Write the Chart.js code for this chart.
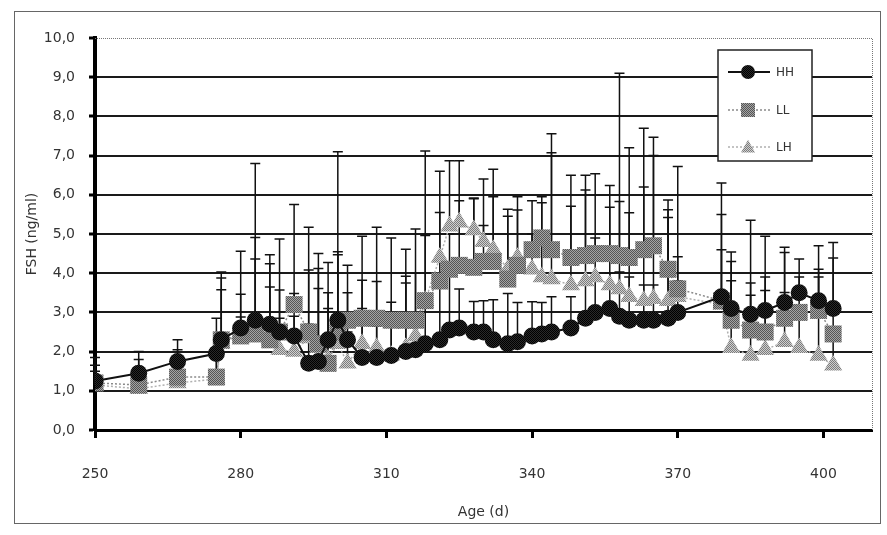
<!DOCTYPE html>
<html>
<head>
<meta charset="utf-8">
<script src="https://cdn.jsdelivr.net/npm/chart.js@4.4.1/dist/chart.umd.min.js"></script>
<style>
  html, body { margin: 0; background: #fff; }
  #wrap { width: 887px; height: 535px; position: relative; }
</style>
</head>
<body>
<div id="wrap"><canvas id="fshChart"></canvas></div>
<script>
  // age in days
  const days = [250, 259, 267, 275,
    276, 280, 283, 286, 288, 291, 294, 296, 298, 300,
    302, 305, 308, 311, 314, 316, 318, 321, 323, 325,
    328, 330, 332, 335, 337, 340, 342, 344, 348, 351,
    353, 356, 358, 360, 363, 365, 368, 370,
    379, 381, 385, 388, 392, 395, 399, 402];

  // FSH means (ng/ml)
  const hhFSH = [1.25, 1.45, 1.75, 1.95,
    2.3, 2.6, 2.8, 2.7, 2.5, 2.4, 1.7, 1.75, 2.3, 2.8,
    2.3, 1.85, 1.85, 1.9, 2.0, 2.05, 2.2, 2.3, 2.55, 2.6,
    2.5, 2.5, 2.3, 2.2, 2.25, 2.4, 2.45, 2.5, 2.6, 2.85,
    3.0, 3.1, 2.9, 2.8, 2.8, 2.8, 2.85, 3.0,
    3.4, 3.1, 2.95, 3.05, 3.25, 3.5, 3.3, 3.1];
  const llFSH = [1.2, 1.15, 1.35, 1.35,
    2.3, 2.4, 2.45, 2.3, 2.5, 3.2, 2.5, 2.2, 1.7, 2.5,
    2.8, 2.85, 2.85, 2.8, 2.8, 2.8, 3.3, 3.8, 4.1, 4.2,
    4.15, 4.3, 4.3, 3.85, 4.2, 4.6, 4.9, 4.6, 4.4, 4.45,
    4.5, 4.5, 4.45, 4.4, 4.6, 4.7, 4.1, 3.6,
    3.3, 2.8, 2.55, 2.5, 2.85, 3.0, 3.05, 2.45];
  const lhFSH = [1.15, 1.05, 1.2, 1.3,
    2.2, 2.45, 2.55, 2.3, 2.05, 2.0, 2.35, 2.1, 1.8, 2.2,
    1.7, 2.2, 2.1, 1.9, 2.1, 2.4, 3.3, 4.4, 5.2, 5.3,
    5.1, 4.8, 4.6, 4.1, 4.4, 4.1, 3.9, 3.85, 3.7, 3.8,
    3.9, 3.7, 3.6, 3.4, 3.3, 3.35, 3.3, 3.4,
    3.2, 2.1, 1.9, 2.05, 2.25, 2.1, 1.9, 1.65];

  // upper error (SD)
  const hhErr = [0.6, 0.55, 0.55, 0.9,
    1.28, 1.96, 4.0, 1.77, 2.37, 1.08, 1.0, 2.75, 1.97, 4.3,
    1.9, 1.97, 0.8, 1.36, 1.75, 0.8, 1.0, 1.63, 1.42, 1.0,
    0.78, 0.8, 1.02, 1.28, 1.0, 0.87, 0.8, 0.9, 0.8, 0.9,
    0.9, 0.9, 1.13, 1.1, 0.9, 0.9, 2.57, 0.8,
    1.2, 1.44, 0.8, 1.89, 1.41, 0.86, 0.8, 1.68];
  const llErr = [0.45, 0.65, 0.7, 0.6,
    1.73, 1.06, 2.46, 1.94, 1.07, 2.55, 2.67, 1.92, 1.4, 2.05,
    0.7, 2.09, 2.32, 2.1, 1.81, 2.33, 1.66, 1.75, 0.9, 1.65,
    1.77, 0.92, 2.35, 1.6, 1.75, 1.25, 0.9, 2.96, 2.1, 2.05,
    2.04, 1.74, 4.65, 2.8, 3.1, 2.77, 1.77, 3.12,
    3.0, 1.5, 2.8, 1.4, 1.68, 0.9, 1.65, 1.94];
  const lhErr = [0.35, 0.55, 0.5, 0.5,
    1.68, 0.43, 1.81, 1.35, 0.8, 0.9, 1.73, 1.51, 1.7, 2.27,
    0.8, 0.9, 1.69, 0.9, 1.82, 1.6, 3.82, 2.2, 1.67, 1.57,
    0.8, 1.6, 1.35, 1.53, 1.21, 0.9, 2.05, 3.22, 2.01, 2.32,
    1.0, 1.98, 2.23, 2.14, 2.9, 3.65, 2.32, 1.02,
    2.3, 1.71, 1.54, 1.51, 1.26, 0.8, 2.0, 0.9];

  const xTicks = [250, 280, 310, 340, 370, 400];

  const FONT = 'DejaVu Sans';
  const TXT = '#333';

  const canvas = document.getElementById('fshChart');
  const cctx = canvas.getContext('2d');

  // scanned halftone look for the grey markers
  function halftone(a, b) {
    const c = document.createElement('canvas');
    c.width = 2; c.height = 2;
    const g = c.getContext('2d');
    g.fillStyle = b; g.fillRect(0, 0, 2, 2);
    g.fillStyle = a; g.fillRect(0, 0, 1, 1); g.fillRect(1, 1, 1, 1);
    return cctx.createPattern(c, 'repeat');
  }
  const hhFill = halftone('#000', '#2a2a2a');
  const llFill = halftone('#555', '#a4a4a4');
  const lhFill = halftone('#7c7c7c', '#cfcfcf');

  const pts = arr => arr.map((v, i) => ({ x: days[i], y: v }));

  const frame = {
    id: 'frame',
    beforeDraw(chart) {
      const { ctx } = chart;
      ctx.save();
      ctx.fillStyle = '#fff';
      ctx.fillRect(0, 0, chart.width, chart.height);
      ctx.strokeStyle = '#666';
      ctx.lineWidth = 1;
      ctx.strokeRect(14.5, 11.5, 866, 512);
      ctx.restore();
    }
  };

  const errorBars = {
    id: 'errorBars',
    beforeDatasetsDraw(chart) {
      const { ctx, chartArea: a, scales: { y } } = chart;
      ctx.save();
      // dotted plot border, top and right
      ctx.strokeStyle = '#777';
      ctx.lineWidth = 1;
      ctx.setLineDash([1, 1]);
      ctx.beginPath();
      ctx.moveTo(a.left, a.top + 0.5);
      ctx.lineTo(a.right + 0.5, a.top + 0.5);
      ctx.lineTo(a.right + 0.5, a.bottom);
      ctx.stroke();
      ctx.setLineDash([]);
      ctx.strokeStyle = '#111';
      ctx.lineWidth = 1.5;
      chart.data.datasets.forEach((ds, i) => {
        const meta = chart.getDatasetMeta(i);
        meta.data.forEach((pt, j) => {
          const top = y.getPixelForValue(ds.data[j].y + ds.errors[j]);
          ctx.beginPath();
          ctx.moveTo(pt.x, pt.y);
          ctx.lineTo(pt.x, top);
          ctx.moveTo(pt.x - 5, top);
          ctx.lineTo(pt.x + 5, top);
          ctx.stroke();
        });
      });
      ctx.restore();
    }
  };

  function marker(ctx, style, x, y, r, fill) {
    ctx.fillStyle = fill;
    ctx.beginPath();
    if (style === 'circle') {
      ctx.arc(x, y, r, 0, Math.PI * 2);
    } else if (style === 'rect') {
      ctx.rect(x - r, y - r, r * 2, r * 2);
    } else {
      ctx.moveTo(x, y - r * 1.05);
      ctx.lineTo(x + r, y + r * 0.8);
      ctx.lineTo(x - r, y + r * 0.8);
      ctx.closePath();
    }
    ctx.fill();
  }

  const boxLegend = {
    id: 'boxLegend',
    afterDraw(chart) {
      const { ctx } = chart;
      const left = 718, top = 50, w = 94, h = 111;
      ctx.save();
      ctx.fillStyle = '#fff';
      ctx.fillRect(left, top, w, h);
      ctx.strokeStyle = '#222';
      ctx.lineWidth = 1.5;
      ctx.strokeRect(left, top, w, h);
      const rows = [72, 110, 147];
      chart.data.datasets.forEach((ds, i) => {
        const yy = rows[i];
        ctx.strokeStyle = ds.borderColor;
        ctx.lineWidth = ds.borderWidth;
        ctx.setLineDash(ds.borderDash || []);
        ctx.beginPath();
        ctx.moveTo(728, yy);
        ctx.lineTo(770, yy);
        ctx.stroke();
        ctx.setLineDash([]);
        marker(ctx, ds.pointStyle, 748, yy, 7, ds.pointBackgroundColor);
        ctx.fillStyle = TXT;
        ctx.font = '12px "' + FONT + '"';
        ctx.textBaseline = 'middle';
        ctx.fillText(ds.label, 776, yy + 1);
      });
      ctx.restore();
    }
  };

  new Chart(canvas, {
    type: 'line',
    data: {
      datasets: [{
        label: 'HH',
        data: pts(hhFSH),
        errors: hhErr,
        borderColor: '#111',
        borderWidth: 2,
        pointStyle: 'circle',
        pointRadius: 8.5,
        pointBackgroundColor: hhFill,
        pointBorderWidth: 0
      }, {
        label: 'LL',
        data: pts(llFSH),
        errors: llErr,
        borderColor: '#8a8a8a',
        borderWidth: 1.5,
        borderDash: [2, 2],
        pointStyle: 'rect',
        pointRadius: 12,
        pointBackgroundColor: llFill,
        pointBorderWidth: 0
      }, {
        label: 'LH',
        data: pts(lhFSH),
        errors: lhErr,
        borderColor: '#b0b0b0',
        borderWidth: 1.5,
        borderDash: [2, 2],
        pointStyle: 'triangle',
        pointRadius: 10.5,
        pointBackgroundColor: lhFill,
        pointBorderWidth: 0
      }]
    },
    options: {
      responsive: true,
      maintainAspectRatio: false,
      animation: false,
      layout: { padding: { top: 38, right: 15, left: 0, bottom: 0 } },
      elements: { line: { tension: 0 } },
      plugins: { legend: { display: false }, tooltip: { enabled: false } },
      scales: {
        x: {
          type: 'linear',
          min: 250,
          max: 410,
          afterBuildTicks: s => { s.ticks = xTicks.map(v => ({ value: v })); },
          afterFit: s => { s.height = 105; },
          ticks: { padding: 28, color: TXT, font: { family: FONT, size: 14 }, callback: v => String(v) },
          grid: { drawOnChartArea: false, tickLength: 8, tickWidth: 3, tickColor: '#000' },
          border: { color: '#000', width: 3 },
          title: { display: true, text: 'Age (d)', color: TXT, font: { family: FONT, size: 14 }, padding: { bottom: 14 } }
        },
        y: {
          min: 0,
          max: 10,
          afterFit: s => { s.width = 95; },
          ticks: { stepSize: 1, padding: 14, color: TXT, font: { family: FONT, size: 14 },
            callback: v => v.toFixed(1).replace('.', ',') },
          grid: {
            color: c => (c.tick && c.tick.value === 10) ? 'rgba(0,0,0,0)' : '#1a1a1a',
            lineWidth: 2, tickLength: 6, tickWidth: 3, tickColor: '#000'
          },
          border: { color: '#000', width: 4 },
          title: { display: true, text: 'FSH (ng/ml)', color: TXT, font: { family: FONT, size: 14 }, padding: { top: 24 } }
        }
      }
    },
    plugins: [frame, errorBars, boxLegend]
  });
</script>
</body>
</html>
